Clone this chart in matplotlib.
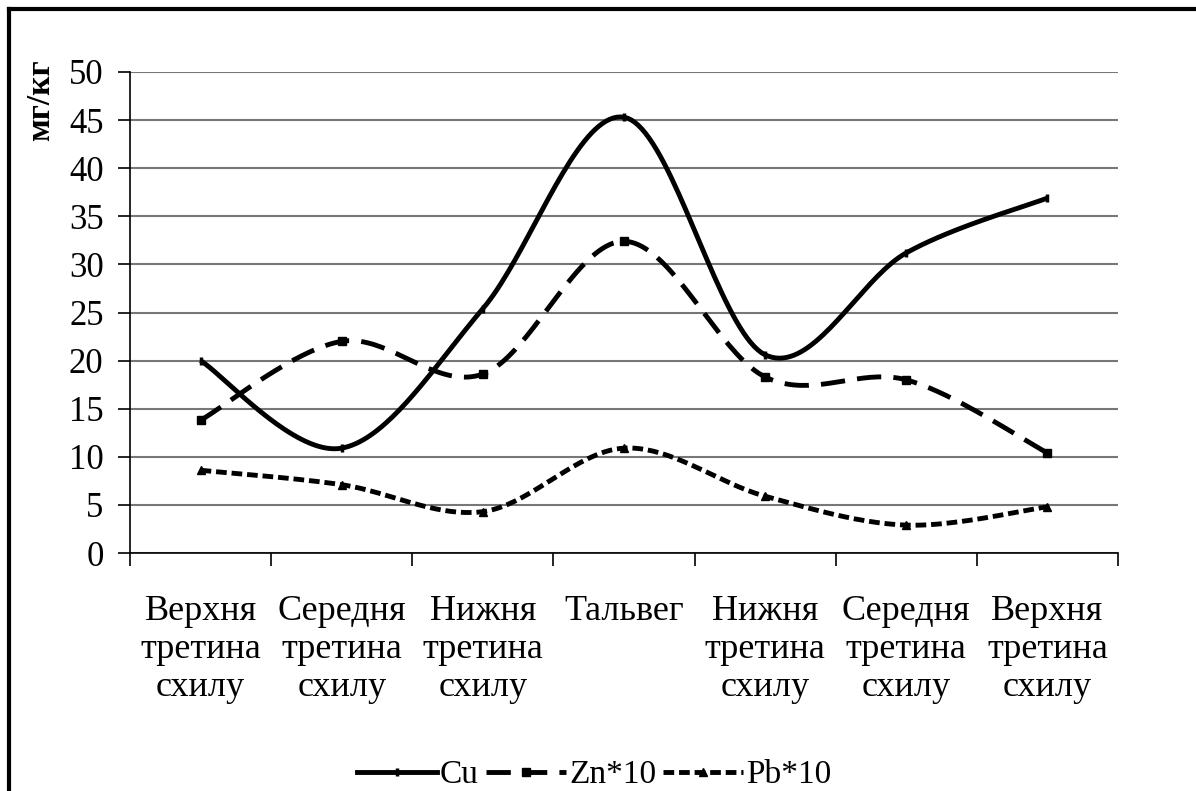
import numpy as np
import matplotlib.pyplot as plt
from matplotlib.lines import Line2D

plt.rcParams['font.family'] = ['Liberation Serif', 'DejaVu Serif']

categories = ["Верхня\nтретина\nсхилу", "Середня\nтретина\nсхилу", "Нижня\nтретина\nсхилу",
              "Тальвег", "Нижня\nтретина\nсхилу", "Середня\nтретина\nсхилу", "Верхня\nтретина\nсхилу"]
cu = [20.0, 10.9, 25.4, 45.3, 20.6, 31.2, 36.9]
zn10 = [13.8, 22.0, 18.6, 32.4, 18.3, 18.0, 10.4]
pb10 = [8.6, 7.1, 4.3, 10.9, 5.9, 2.9, 4.8]
yticks = list(range(0, 51, 5))


def smooth(x, y, n=40):
    # excel-like smoothing: bezier segments with catmull-rom control points
    x = np.asarray(x, float)
    y = np.asarray(y, float)
    px = np.concatenate([[x[0]], x, [x[-1]]])
    py = np.concatenate([[y[0]], y, [y[-1]]])
    t = np.linspace(0, 1, n)
    xs, ys = [], []
    for i in range(len(x) - 1):
        p0 = np.array([px[i + 1], py[i + 1]])
        p3 = np.array([px[i + 2], py[i + 2]])
        c1 = p0 + (np.array([px[i + 2], py[i + 2]]) - np.array([px[i], py[i]])) / 6
        c2 = p3 - (np.array([px[i + 3], py[i + 3]]) - np.array([px[i + 1], py[i + 1]])) / 6
        b = ((1 - t) ** 3)[:, None] * p0 + (3 * (1 - t) ** 2 * t)[:, None] * c1 \
            + (3 * (1 - t) * t ** 2)[:, None] * c2 + (t ** 3)[:, None] * p3
        xs.append(b[:, 0])
        ys.append(b[:, 1])
    return np.concatenate(xs), np.concatenate(ys)


fig = plt.figure(figsize=(11.96, 7.91), dpi=100)
ax = fig.add_axes([130 / 1196, 1 - 553 / 791, 988 / 1196, 481 / 791])

x = np.arange(len(categories))
series = [(cu, '-', '|', 'Cu'), (zn10, (0, (5, 2.5)), 's', 'Zn*10'), (pb10, (0, (2.2, 1)), '^', 'Pb*10')]
handles = []
for vals, ls, mk, lab in series:
    sx, sy = smooth(x, vals)
    ax.plot(sx, sy, color='black', lw=3.5, ls=ls, solid_capstyle='butt', dash_capstyle='butt')
    ax.plot(x, vals, ls='none', marker=mk, color='black', ms=6, mew=2.5 if mk == '|' else 1)
    handles.append(Line2D([], [], color='black', lw=3.5, ls=ls, marker=mk, ms=6,
                          mew=2.5 if mk == '|' else 1, markevery=[1]))

ax.set_xlim(-0.5, len(categories) - 0.5)
ax.set_ylim(0, 50)
ax.set_yticks(yticks)
ax.set_yticklabels([str(v) for v in yticks], fontsize=25)
ax.yaxis.grid(True, color='#777777', lw=1.5)
ax.set_axisbelow(True)
ax.set_xticks(np.arange(-0.5, len(categories), 1))
ax.set_xticklabels([])
ax.set_xticks(x, minor=True)
ax.set_xticklabels(categories, minor=True, fontsize=26, linespacing=1.2)
ax.tick_params(axis='x', which='minor', length=0, pad=30)
ax.tick_params(axis='x', which='major', length=9, width=1.2)
ax.tick_params(axis='y', length=9, width=1.2, pad=10)
for s in ['top', 'right']:
    ax.spines[s].set_visible(False)
for s in ['left', 'bottom']:
    ax.spines[s].set_linewidth(1.2)
ax.set_ylabel('мг/кг', fontsize=24, fontweight='bold')
ax.yaxis.set_label_coords(-0.075, 0.942)

fig.legend(handles=handles, labels=[s[3] for s in series], loc='center',
           bbox_to_anchor=(594 / 1196, 1 - 775 / 791), ncol=3, frameon=False,
           prop={'family': ['Liberation Serif', 'DejaVu Serif'], 'size': 24},
           handlelength=2.4, handletextpad=0.1, columnspacing=0.2, borderpad=0)

# outer frame (only top/left edges visible in the crop)
fig.add_artist(Line2D([9 / 1196, 9 / 1196], [0, 1 - 9 / 791], color='black', lw=3, transform=fig.transFigure))
fig.add_artist(Line2D([9 / 1196, 1], [1 - 9 / 791, 1 - 9 / 791], color='black', lw=3, transform=fig.transFigure))

fig.savefig('out.png', dpi=100)
